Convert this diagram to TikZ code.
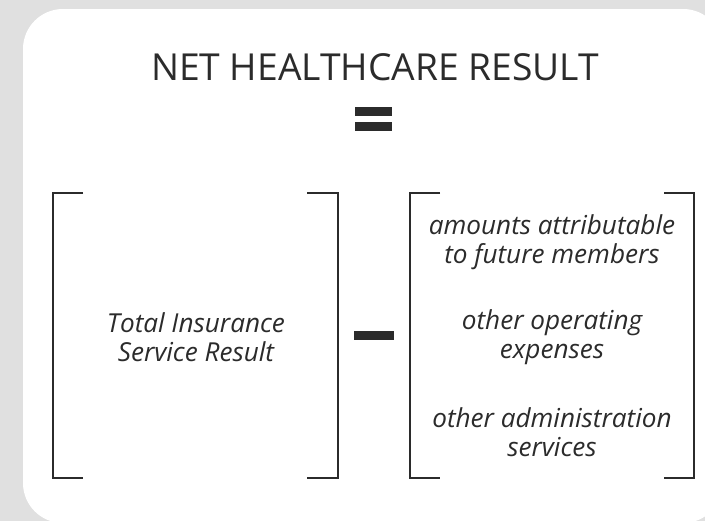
\documentclass[tikz,border=0pt]{standalone}
\usepackage{fontspec}
\setmainfont{Open Sans}
\definecolor{pagegray}{HTML}{E0E0E0}
\definecolor{ink}{HTML}{2B2B2B}
\begin{document}
\begin{tikzpicture}[x=0.75pt,y=-0.75pt,
  bracketline/.style={draw=ink,line width=1pt},
  bar/.style={fill=ink,draw=none},
  itemtext/.style={text=ink,font=\fontsize{19.6}{22}\selectfont\itshape,align=center,inner sep=0pt},
  titletext/.style={text=ink,font=\fontsize{27.9}{34}\selectfont,inner sep=0pt}]
  % canvas
  \useasboundingbox (0,0) rectangle (705,521);
  \fill[pagegray] (0,0) rectangle (705,521);
  \begin{scope}
    \clip (0,0) rectangle (705,521);
    \fill[white,rounded corners=30pt] (23,9) rectangle (723,523);
  \end{scope}

  % heading and equals sign
  \node[titletext,anchor=base] (title) at (375,80) {NET HEALTHCARE RESULT};
  \fill[bar] (355,107) rectangle (392,116);
  \fill[bar] (355,122) rectangle (392,131);

  % left bracket group
  \coordinate (a1) at (83,193);  \coordinate (a2) at (53,193);
  \coordinate (a3) at (53,478);  \coordinate (a4) at (83,478);
  \draw[bracketline] (a1) -- (a2) -- (a3) -- (a4);
  \coordinate (b1) at (307,193); \coordinate (b2) at (338,193);
  \coordinate (b3) at (338,478); \coordinate (b4) at (307,478);
  \draw[bracketline] (b1) -- (b2) -- (b3) -- (b4);
  \node[itemtext] (tisr) at (196,337) {Total Insurance\\Service Result};

  % minus sign
  \fill[bar] (354,331) rectangle (394,340);

  % right bracket group
  \coordinate (c1) at (440,193); \coordinate (c2) at (410,193);
  \coordinate (c3) at (410,478); \coordinate (c4) at (440,478);
  \draw[bracketline] (c1) -- (c2) -- (c3) -- (c4);
  \coordinate (d1) at (664,193); \coordinate (d2) at (694,193);
  \coordinate (d3) at (694,478); \coordinate (d4) at (664,478);
  \draw[bracketline] (d1) -- (d2) -- (d3) -- (d4);
  \node[itemtext] (future) at (552,242) {amounts attributable\\to future members};
  \node[itemtext] (opex) at (552,337) {other operating\\expenses};
  \node[itemtext] (admin) at (552,432) {other administration\\services};
\end{tikzpicture}
\end{document}
